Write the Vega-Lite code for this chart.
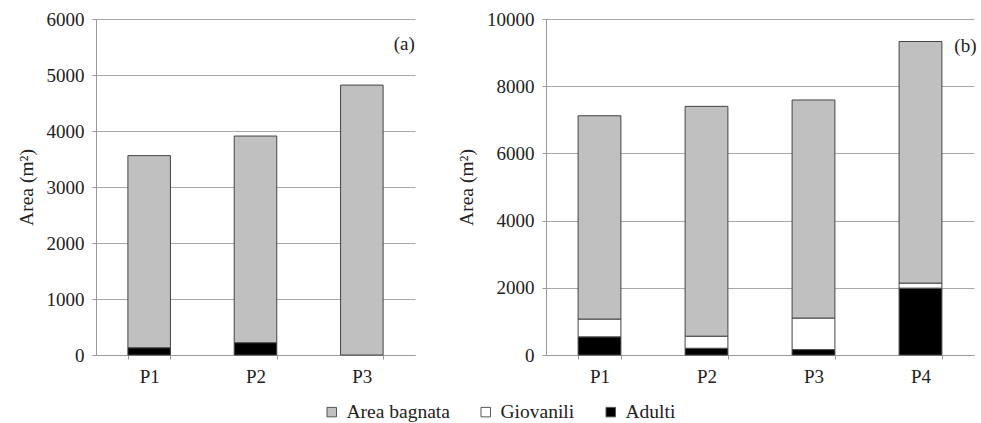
{
  "$schema": "https://vega.github.io/schema/vega-lite/v6.json",
  "padding": {"left": 16, "top": 10, "right": 5, "bottom": 5},
  "background": "white",
  "datasets": {
    "a": [
      {"sito": "P1", "classe": "Adulti", "ord": 1, "area": 130},
      {"sito": "P1", "classe": "Area bagnata", "ord": 3, "area": 3430},
      {"sito": "P2", "classe": "Adulti", "ord": 1, "area": 220},
      {"sito": "P2", "classe": "Area bagnata", "ord": 3, "area": 3690},
      {"sito": "P3", "classe": "Area bagnata", "ord": 3, "area": 4820}
    ],
    "b": [
      {"sito": "P1", "classe": "Adulti", "ord": 1, "area": 540},
      {"sito": "P1", "classe": "Giovanili", "ord": 2, "area": 530},
      {"sito": "P1", "classe": "Area bagnata", "ord": 3, "area": 6050},
      {"sito": "P2", "classe": "Adulti", "ord": 1, "area": 200},
      {"sito": "P2", "classe": "Giovanili", "ord": 2, "area": 360},
      {"sito": "P2", "classe": "Area bagnata", "ord": 3, "area": 6840},
      {"sito": "P3", "classe": "Adulti", "ord": 1, "area": 160},
      {"sito": "P3", "classe": "Giovanili", "ord": 2, "area": 940},
      {"sito": "P3", "classe": "Area bagnata", "ord": 3, "area": 6490},
      {"sito": "P4", "classe": "Adulti", "ord": 1, "area": 1990},
      {"sito": "P4", "classe": "Giovanili", "ord": 2, "area": 150},
      {"sito": "P4", "classe": "Area bagnata", "ord": 3, "area": 7190}
    ],
    "labA": [{"sito": "P3", "v": 5550, "t": "(a)"}],
    "labB": [{"sito": "P4", "v": 9200, "t": "(b)"}]
  },
  "config": {
    "font": "Liberation Serif, Times New Roman, serif",
    "text": {"font": "Liberation Serif, Times New Roman, serif"},
    "view": {"stroke": null},
    "axis": {
      "labelFont": "Liberation Serif, Times New Roman, serif",
      "titleFont": "Liberation Serif, Times New Roman, serif",
      "labelFontSize": 19,
      "titleFontSize": 19.5,
      "titleFontWeight": "normal",
      "labelColor": "#222",
      "titleColor": "#222",
      "domainColor": "#9a9a9a",
      "tickColor": "#9a9a9a",
      "gridColor": "#a8a8a8",
      "tickSize": 4
    },
    "legend": {
      "labelFont": "Liberation Serif, Times New Roman, serif",
      "labelFontSize": 19.5,
      "labelColor": "#222",
      "orient": "none",
      "legendX": 226,
      "legendY": 383,
      "direction": "horizontal",
      "symbolType": "square",
      "symbolSize": 90,
      "symbolStrokeColor": "#555",
      "symbolStrokeWidth": 1,
      "labelOffset": 5,
      "columnPadding": 26,
      "title": null
    }
  },
  "hconcat": [
    {
      "width": 319,
      "height": 336,
      "layer": [
        {
          "data": {"name": "a"},
          "mark": {"type": "bar", "stroke": "#444", "strokeWidth": 1},
          "encoding": {
            "x": {"field": "sito", "type": "nominal", "scale": {"paddingInner": 0.6, "paddingOuter": 0.3},
              "axis": {"title": null, "labelAngle": 0, "labelPadding": 8, "tickBand": "extent", "grid": false}},
            "y": {"field": "area", "type": "quantitative", "stack": "zero",
              "scale": {"domain": [0, 6000]},
              "axis": {"title": "Area (m²)", "tickCount": 6, "format": "d", "labelPadding": 8, "titlePadding": 10}},
            "color": {"field": "classe", "type": "nominal",
              "scale": {"domain": ["Area bagnata", "Giovanili", "Adulti"], "range": ["#c0c0c0", "#ffffff", "#000000"]}},
            "order": {"field": "ord", "type": "quantitative"}
          }
        },
        {
          "data": {"name": "labA"},
          "mark": {"type": "text", "align": "right", "baseline": "middle", "fontSize": 19, "dx": 53, "color": "#222"},
          "encoding": {
            "x": {"field": "sito", "type": "nominal"},
            "y": {"field": "v", "type": "quantitative"},
            "text": {"field": "t"}
          }
        }
      ]
    },
    {
      "width": 428,
      "height": 336,
      "layer": [
        {
          "data": {"name": "b"},
          "mark": {"type": "bar", "stroke": "#444", "strokeWidth": 1},
          "encoding": {
            "x": {"field": "sito", "type": "nominal", "scale": {"paddingInner": 0.6, "paddingOuter": 0.3},
              "axis": {"title": null, "labelAngle": 0, "labelPadding": 8, "tickBand": "extent", "grid": false}},
            "y": {"field": "area", "type": "quantitative", "stack": "zero",
              "scale": {"domain": [0, 10000]},
              "axis": {"title": "Area (m²)", "tickCount": 5, "format": "d", "labelPadding": 8, "titlePadding": 10}},
            "color": {"field": "classe", "type": "nominal",
              "scale": {"domain": ["Area bagnata", "Giovanili", "Adulti"], "range": ["#c0c0c0", "#ffffff", "#000000"]}},
            "order": {"field": "ord", "type": "quantitative"}
          }
        },
        {
          "data": {"name": "labB"},
          "mark": {"type": "text", "align": "right", "baseline": "middle", "fontSize": 19, "dx": 56, "color": "#222"},
          "encoding": {
            "x": {"field": "sito", "type": "nominal"},
            "y": {"field": "v", "type": "quantitative"},
            "text": {"field": "t"}
          }
        }
      ]
    }
  ],
  "spacing": 41
}
